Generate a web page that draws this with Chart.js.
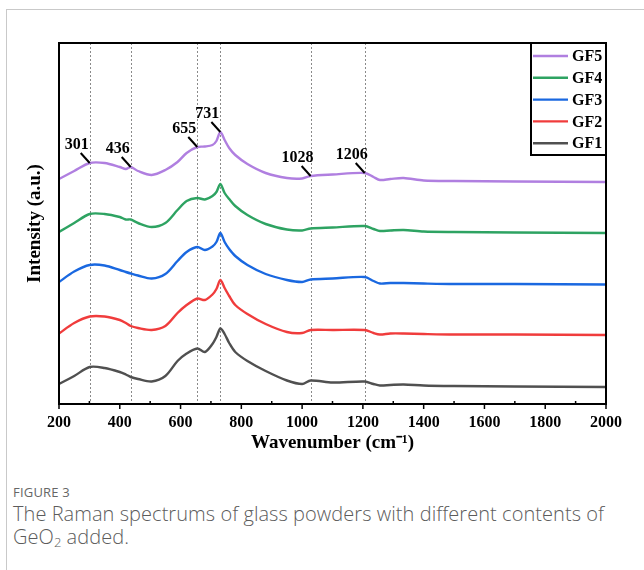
<!DOCTYPE html>
<html>
<head>
<meta charset="utf-8">
<script src="https://cdn.jsdelivr.net/npm/chart.js@4.4.1/dist/chart.umd.min.js"></script>
<style>
	body { margin: 0; background: #fff; }
	#page { position: relative; width: 644px; height: 570px; overflow: hidden; }
	#frame { position: absolute; left: 6px; top: 9px; width: 700px; height: 600px; border-top: 1px solid #c9c9c9; border-left: 1px solid #c9c9c9; }
	#wrap { position: absolute; left: 0; top: 0; width: 644px; height: 470px; }
	#caption { position: absolute; left: 13px; top: 483px; font-family: "Open Sans", sans-serif; color: #5c5c5c; }
	#caption .fig { font-size: 13px; letter-spacing: 0.2px; color: #666; }
	#caption .text { font-size: 20px; font-weight: 300; line-height: 23px; margin-top: 1px; letter-spacing: 0.05px; white-space: nowrap; }
	#caption sub { font-size: 13px; vertical-align: -3px; line-height: 0; }
</style>
</head>
<body>
<div id="page">
	<div id="frame"></div>
	<div id="wrap"><canvas id="chart" width="644" height="470"></canvas></div>
	<div id="caption">
		<div class="fig">FIGURE 3</div>
		<div class="text">The Raman spectrums of glass powders with different contents of<br>GeO<sub>2</sub> added.</div>
	</div>
</div>
<script>
let wavenumbers = [200, 250, 301, 350, 400, 420, 436, 460, 505, 550, 590, 620, 655, 680, 705, 718, 731, 745, 760, 780, 820, 880, 950, 1000, 1028, 1100, 1206, 1235, 1256, 1290, 1334, 1400, 1500, 1700, 2000];

// intensities (a.u.), already stacked with an offset like in the figure
let gf1 = [20, 28, 37, 36, 32, 29.5, 27, 25, 22.5, 28, 43, 50.5, 55.5, 52, 60, 67, 75.5, 70, 61, 52, 43, 33, 23.5, 20, 23.5, 21.5, 22.5, 20, 18.5, 19, 19.5, 18.5, 18, 17.5, 17];
let gf2 = [70.5, 81, 87.5, 87.5, 84, 81, 78, 76, 74, 78, 91, 99, 105.5, 104, 109.5, 115, 124, 116, 108, 99, 90, 80, 72, 71, 74, 74, 74, 71, 69.5, 70.5, 70.5, 70, 69.5, 69.5, 69];
let gf3 = [122, 132.5, 139, 138.5, 134, 132, 130.5, 128.5, 125.5, 130, 143, 152, 157, 154, 157.5, 162, 171, 162, 155, 148, 139, 130, 124, 122, 124.5, 125.5, 127, 123, 120.5, 121, 121, 120.5, 120, 120, 119.5];
let gf4 = [172, 181, 190, 190, 187, 184.5, 184.5, 181, 177, 181, 194, 203, 206, 204.5, 208, 212, 220, 211, 205, 198, 189, 180, 174.5, 173.5, 175.5, 176.5, 178, 175, 173, 173.5, 174, 172.5, 172, 171.5, 171];
let gf5 = [225, 233, 241, 241, 237, 235, 237, 233, 229, 234, 242, 251, 257, 257.5, 259, 263, 272, 264, 256, 249, 240, 231, 226, 225.5, 228, 229.5, 231, 227, 224, 225, 226, 223.5, 223, 222.5, 222];

let seriesNames = ['GF1', 'GF2', 'GF3', 'GF4', 'GF5'];
let seriesValues = [gf1, gf2, gf3, gf4, gf5];
let seriesColors = ['#505050', '#f03c3c', '#1a68e0', '#2ea362', '#b07fe0'];

// marked bands
let peaks = [301, 436, 655, 731, 1028, 1206];
let peakLabels = ['301', '436', '655', '731', '1028', '1206'];

let xTicks = [200, 400, 600, 800, 1000, 1200, 1400, 1600, 1800, 2000];

let serif = "'Liberation Serif', 'Times New Roman', serif";

let datasets = seriesNames.map(function (name, i) {
	return {
		label: name,
		data: wavenumbers.map(function (w, j) { return {x: w, y: seriesValues[i][j]}; }),
		borderColor: seriesColors[i],
		backgroundColor: seriesColors[i],
		borderWidth: 2.4,
		pointRadius: 0,
		tension: 0.3,
		fill: false
	};
});

let decor = {
	id: 'decor',
	beforeDatasetsDraw(chart) {
		let ctx = chart.ctx;
		let area = chart.chartArea;
		let xs = chart.scales.x;
		ctx.save();
		ctx.strokeStyle = '#8a8a8a';
		ctx.lineWidth = 1;
		ctx.setLineDash([2, 2]);
		peaks.forEach(function (p) {
			let px = Math.round(xs.getPixelForValue(p)) + 0.5;
			ctx.beginPath();
			ctx.moveTo(px, area.top);
			ctx.lineTo(px, area.bottom);
			ctx.stroke();
		});
		ctx.restore();
	},
	afterDatasetsDraw(chart) {
		let ctx = chart.ctx;
		let area = chart.chartArea;
		let xs = chart.scales.x;
		ctx.save();

		// plot box
		ctx.strokeStyle = '#000';
		ctx.lineWidth = 2;
		ctx.strokeRect(area.left, area.top, area.right - area.left, area.bottom - area.top);

		// tick marks: major out, minor in
		ctx.lineWidth = 1.5;
		for (let v = 200; v <= 2000; v += 100) {
			let px = xs.getPixelForValue(v);
			ctx.beginPath();
			if (v % 200 == 0) {
				ctx.moveTo(px, area.bottom);
				ctx.lineTo(px, area.bottom + 5);
			} else {
				ctx.moveTo(px, area.bottom);
				ctx.lineTo(px, area.bottom - 3);
			}
			ctx.stroke();
		}

		// peak labels with leader lines, on the GF5 curve
		let meta = chart.getDatasetMeta(4);
		ctx.font = 'bold 16px ' + serif;
		ctx.fillStyle = '#000';
		ctx.textAlign = 'center';
		ctx.textBaseline = 'middle';
		ctx.lineWidth = 2;
		peaks.forEach(function (p, i) {
			let idx = wavenumbers.indexOf(p);
			let pt = meta.data[idx];
			ctx.beginPath();
			ctx.moveTo(pt.x - 9, pt.y - 10);
			ctx.lineTo(pt.x, pt.y);
			ctx.stroke();
			ctx.fillText(peakLabels[i], pt.x - 13, pt.y - 18);
		});

		// legend box in the top right corner
		let boxLeft = 531;
		let boxBottom = 155;
		ctx.fillStyle = '#fff';
		ctx.fillRect(boxLeft, area.top, area.right - boxLeft, boxBottom - area.top);
		ctx.lineWidth = 2;
		ctx.strokeRect(boxLeft, area.top, area.right - boxLeft, boxBottom - area.top);
		ctx.textAlign = 'left';
		ctx.font = 'bold 16px ' + serif;
		for (let k = 0; k < seriesNames.length; k++) {
			let i = seriesNames.length - 1 - k;
			let y = area.top + 13 + k * 21.8;
			ctx.strokeStyle = seriesColors[i];
			ctx.lineWidth = 2.4;
			ctx.beginPath();
			ctx.moveTo(boxLeft + 2, y);
			ctx.lineTo(boxLeft + 37, y);
			ctx.stroke();
			ctx.fillStyle = '#000';
			ctx.fillText(seriesNames[i], boxLeft + 41, y + 1);
		}
		ctx.restore();
	}
};

new Chart(document.getElementById('chart'), {
	type: 'line',
	data: {datasets: datasets},
	options: {
		responsive: false,
		animation: false,
		layout: {padding: {left: 0, top: 43, right: 38, bottom: 0}},
		plugins: {legend: {display: false}, tooltip: {enabled: false}},
		scales: {
			x: {
				type: 'linear',
				min: 200,
				max: 2000,
				afterFit(scale) { scale.height = 66; },
				afterBuildTicks(scale) { scale.ticks = xTicks.map(function (v) { return {value: v}; }); },
				grid: {display: false, drawTicks: false, tickLength: 0},
				border: {display: false},
				ticks: {
					color: '#000',
					font: {family: serif, size: 16, weight: 'bold'},
					padding: 9,
					maxRotation: 0,
					autoSkip: false,
					callback: function (value) { return String(value); }
				},
				title: {display: true, text: 'Wavenumber (cm\u207B\u00B9)', color: '#000', font: {family: serif, size: 19, weight: 'bold'}, padding: {top: 0, bottom: 16}}
			},
			y: {
				min: 0,
				max: 361,
				afterFit(scale) { scale.width = 59; },
				grid: {display: false, drawTicks: false},
				border: {display: false},
				ticks: {display: false},
				title: {display: true, text: 'Intensity (a.u.)', color: '#000', font: {family: serif, size: 19, weight: 'bold'}, padding: {top: 24, bottom: 0}}
			}
		}
	},
	plugins: [decor]
});
</script>
</body>
</html>
